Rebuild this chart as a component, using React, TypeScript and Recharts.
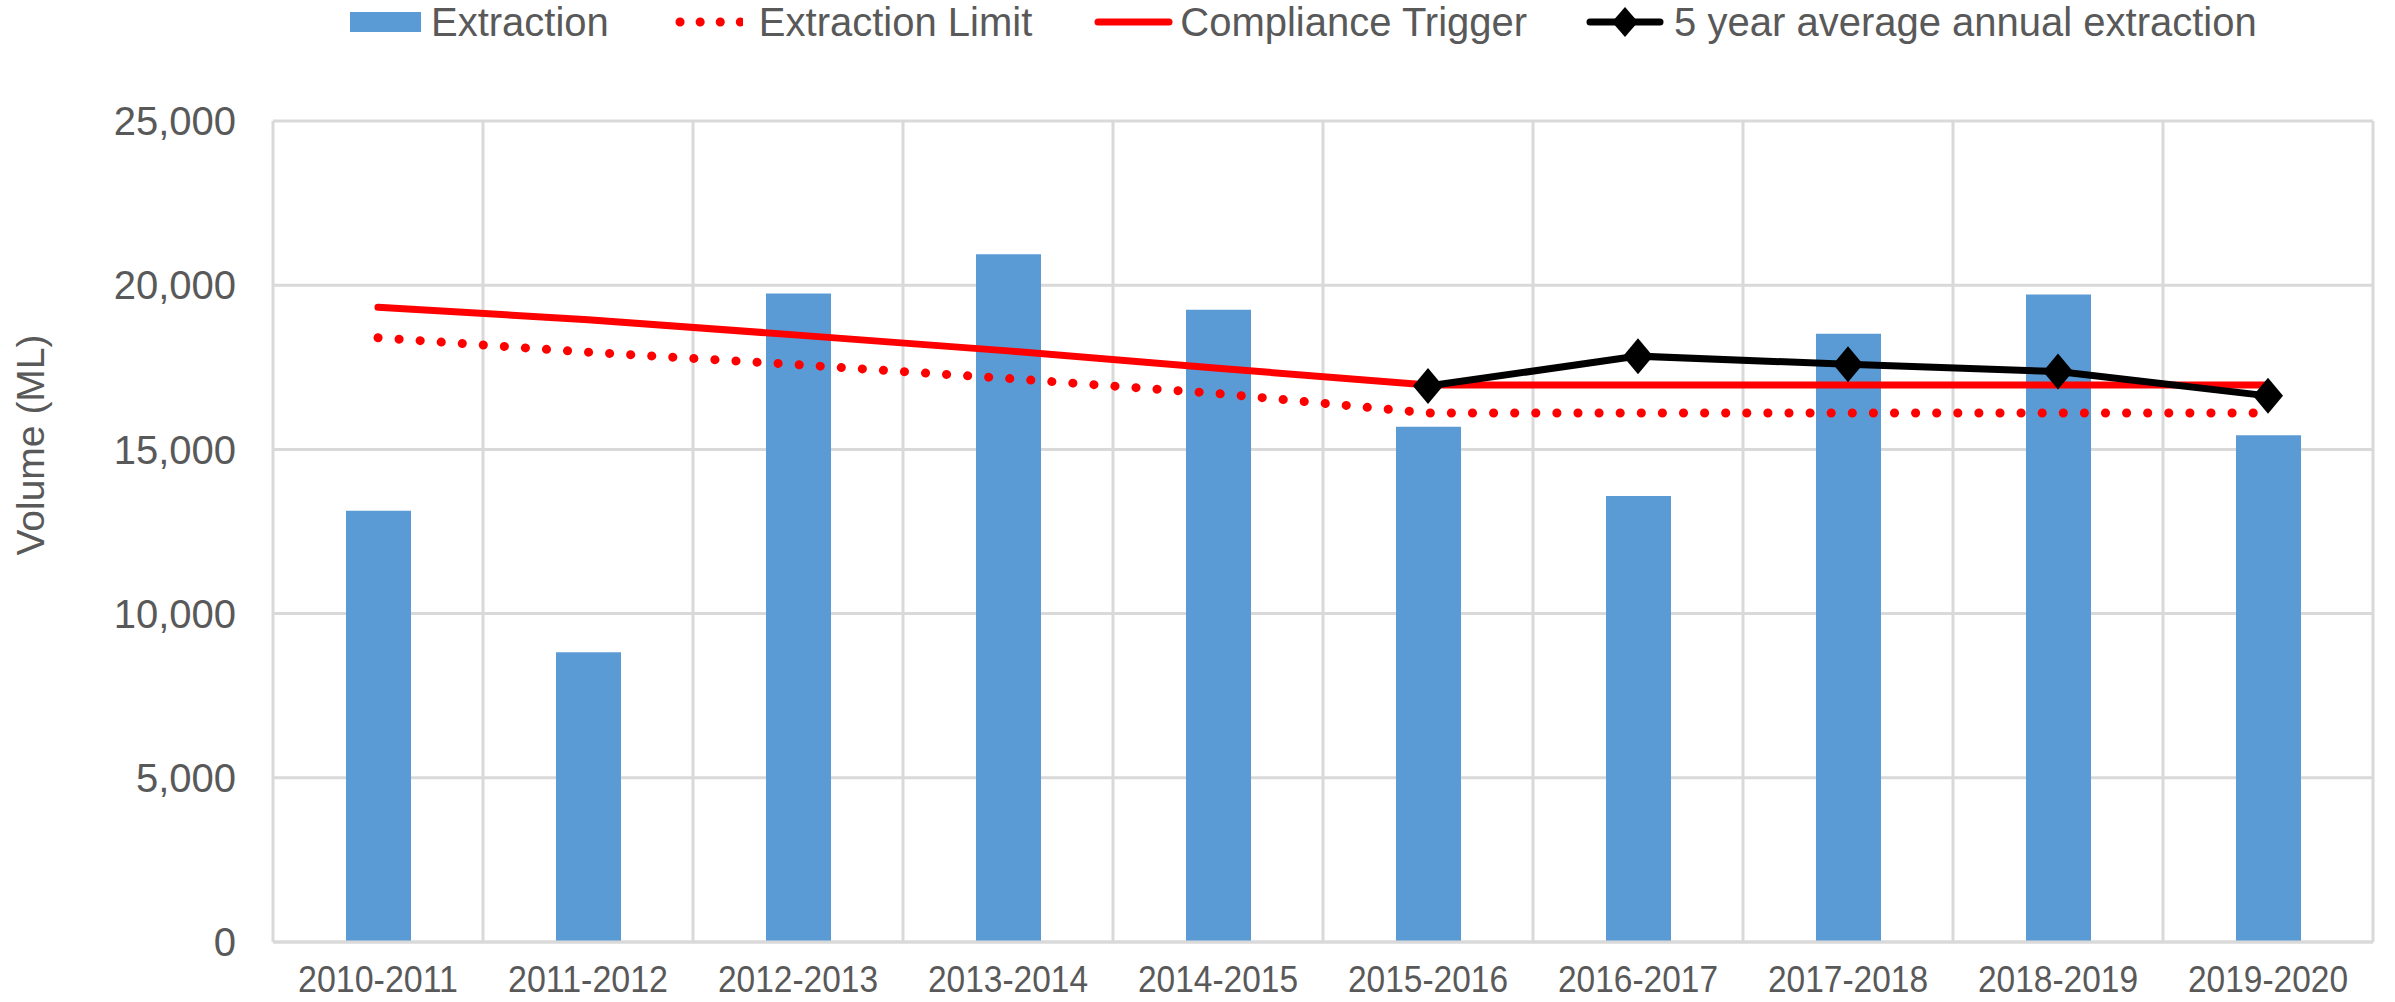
import React from 'react';
import { ComposedChart, Bar, Line, XAxis, YAxis, CartesianGrid, Legend } from 'recharts';

const categories = ['2010-2011', '2011-2012', '2012-2013', '2013-2014', '2014-2015', '2015-2016', '2016-2017', '2017-2018', '2018-2019', '2019-2020'];
const extraction = [13130, 8820, 19750, 20940, 19250, 15690, 13580, 18520, 19720, 15430];
const extractionLimit = [18400, 17960, 17580, 17160, 16700, 16110, 16110, 16110, 16110, 16110];
const complianceTrigger = [19330, 18950, 18480, 18000, 17470, 16960, 16960, 16960, 16960, 16960];
const fiveYearAvg: (number | null)[] = [null, null, null, null, null, 16930, 17840, 17590, 17370, 16630];
const yTicks = [0, 5000, 10000, 15000, 20000, 25000];

const seriesNames = {
  extraction: 'Extraction',
  limit: 'Extraction Limit',
  trigger: 'Compliance Trigger',
  avg: '5 year average annual extraction',
};

const data = categories.map((c, i) => ({
  category: c,
  extraction: extraction[i],
  limit: extractionLimit[i],
  trigger: complianceTrigger[i],
  avg: fiveYearAvg[i],
}));

const FONT = '"Liberation Sans", Arial, Helvetica, sans-serif';
const TEXT = '#595959';
const GRID = '#d9d9d9';
const BLUE = '#5b9bd5';
const RED = '#ff0000';

const Diamond = (props: any) => {
  const { cx, cy } = props;
  if (cx == null || cy == null || props.value == null) return <g key={props.key} />;
  return <path key={props.key} d={`M${cx},${cy - 18} L${cx + 15},${cy} L${cx},${cy + 18} L${cx - 15},${cy} Z`} fill="#000" />;
};

const XTick = (props: any) => {
  const { x, y, payload } = props;
  return (
    <text x={x} y={y + 50} textAnchor="middle" fill={TEXT} fontSize={37} fontFamily={FONT} textLength={160} lengthAdjust="spacingAndGlyphs">
      {payload.value}
    </text>
  );
};

const YLabel = () => (
  <text x={44} y={445} transform="rotate(-90 44 445)" textAnchor="middle" fill={TEXT} fontSize={39} fontFamily={FONT}>
    Volume (ML)
  </text>
);

const LegendContent = () => {
  const textStyle: React.CSSProperties = { fontSize: 40, color: TEXT, fontFamily: FONT, whiteSpace: 'nowrap', lineHeight: '50px' };
  return (
    <div style={{ display: 'flex', alignItems: 'center', height: 50, paddingLeft: 350, marginTop: -3 }}>
      <svg width={71} height={50} style={{ marginRight: 10 }}>
        <rect x={0} y={15} width={71} height={20} fill={BLUE} />
      </svg>
      <span style={{ ...textStyle, marginRight: 66 }}>{seriesNames.extraction}</span>
      <svg width={68} height={50} style={{ marginRight: 16 }}>
        <line x1={5} y1={25} x2={66} y2={25} stroke={RED} strokeWidth={9} strokeDasharray="0.1 20" strokeLinecap="round" />
      </svg>
      <span style={{ ...textStyle, marginRight: 62 }}>{seriesNames.limit}</span>
      <svg width={79} height={50} style={{ marginRight: 7 }}>
        <line x1={4} y1={25} x2={75} y2={25} stroke={RED} strokeWidth={7} strokeLinecap="round" />
      </svg>
      <span style={{ ...textStyle, marginRight: 59 }}>{seriesNames.trigger}</span>
      <svg width={78} height={50} style={{ marginRight: 10 }}>
        <line x1={4} y1={25} x2={74} y2={25} stroke="#000" strokeWidth={7} strokeLinecap="round" />
        <path d="M39,10 L52,25 L39,40 L26,25 Z" fill="#000" />
      </svg>
      <span style={{ ...textStyle }}>{seriesNames.avg}</span>
    </div>
  );
};

export default function App() {
  return (
    <div style={{ position: 'absolute', left: 0, top: 0, width: 2395, height: 1002, background: '#fff' }}>
      <ComposedChart width={2395} height={1002} data={data} margin={{ top: 71, right: 22, bottom: 0, left: 0 }}>
        <CartesianGrid
          stroke={GRID}
          strokeWidth={3}
          verticalCoordinatesGenerator={({ offset }: any) =>
            Array.from({ length: categories.length + 1 }, (_, i) => offset.left + (i * offset.width) / categories.length)
          }
        />
        <XAxis
          dataKey="category"
          height={60}
          tickSize={0}
          tickMargin={0}
          tick={<XTick />}
          axisLine={{ stroke: GRID, strokeWidth: 3 }}
          interval={0}
        />
        <YAxis
          width={273}
          domain={[0, 25000]}
          ticks={yTicks}
          tickSize={0}
          tickMargin={37}
          axisLine={false}
          tick={{ fill: TEXT, fontSize: 40, fontFamily: FONT }}
          tickFormatter={(v: number) => v.toLocaleString('en-US')}
          label={<YLabel />}
        />
        <Legend verticalAlign="top" content={<LegendContent />} wrapperStyle={{ top: 0, left: 0, width: 2395, height: 50 }} />
        <Bar dataKey="extraction" name={seriesNames.extraction} fill={BLUE} barSize={65} isAnimationActive={false} />
        <Line
          dataKey="limit"
          name={seriesNames.limit}
          type="linear"
          stroke={RED}
          strokeWidth={9}
          strokeDasharray="0.1 21"
          strokeLinecap="round"
          dot={false}
          activeDot={false}
          isAnimationActive={false}
        />
        <Line
          dataKey="trigger"
          name={seriesNames.trigger}
          type="linear"
          stroke={RED}
          strokeWidth={7}
          strokeLinecap="round"
          dot={false}
          activeDot={false}
          isAnimationActive={false}
        />
        <Line
          dataKey="avg"
          name={seriesNames.avg}
          type="linear"
          stroke="#000"
          strokeWidth={7}
          dot={<Diamond />}
          activeDot={false}
          isAnimationActive={false}
        />
      </ComposedChart>
    </div>
  );
}
